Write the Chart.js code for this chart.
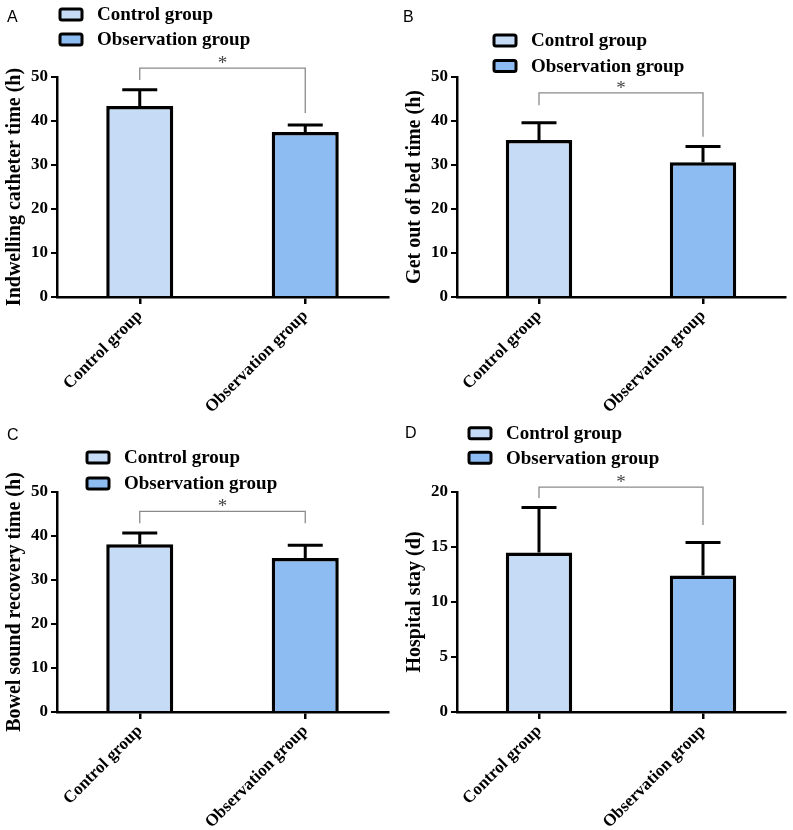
<!DOCTYPE html>
<html>
<head>
<meta charset="utf-8">
<script src="https://cdn.jsdelivr.net/npm/chart.js@4.4.1/dist/chart.umd.min.js"></script>
<style>
  body { margin: 0; background: #fff; width: 793px; height: 830px; position: relative; overflow: hidden; }
  .panel { position: absolute; }
</style>
</head>
<body>
<div class="panel" style="left:0;top:0"><canvas id="cA" width="396" height="415"></canvas></div>
<div class="panel" style="left:400px;top:0"><canvas id="cB" width="393" height="415"></canvas></div>
<div class="panel" style="left:0;top:415px"><canvas id="cC" width="396" height="415"></canvas></div>
<div class="panel" style="left:400px;top:415px"><canvas id="cD" width="393" height="415"></canvas></div>
<script>
const groups = ['Control group', 'Observation group'];
const groupColors = ['#c6dcf6', '#8dbcf3'];

// means and SD (upper error bar only)
const catheterMean = [43.4, 37.5];
const catheterSD = [3.7, 1.6];
const bedMean = [35.7, 30.6];
const bedSD = [3.9, 3.6];
const bowelMean = [38.1, 35.0];
const bowelSD = [2.6, 2.9];
const stayMean = [14.5, 12.4];
const staySD = [4.1, 3.0];

const serif = "'Liberation Serif', 'Times New Roman', serif";
const sans = "'Liberation Sans', Arial, sans-serif";

// error bars, significance bracket, legend and panel letter
const extras = {
  id: 'extras',
  afterDraw(chart) {
    const o = chart.options.plugins.extras;
    const ctx = chart.ctx;
    const meta = chart.getDatasetMeta(0);
    const y = chart.scales.y;
    const ds = chart.data.datasets[0];
    ctx.save();
    // error bars
    ctx.strokeStyle = '#000';
    ctx.lineWidth = 3;
    meta.data.forEach((bar, i) => {
      const top = y.getPixelForValue(ds.data[i]);
      const cap = y.getPixelForValue(ds.data[i] + o.sd[i]);
      ctx.beginPath();
      ctx.moveTo(bar.x, top);
      ctx.lineTo(bar.x, cap);
      ctx.moveTo(bar.x - 17.5, cap);
      ctx.lineTo(bar.x + 17.5, cap);
      ctx.stroke();
    });
    // bracket
    const x0 = meta.data[0].x, x1 = meta.data[1].x;
    const by = y.getPixelForValue(o.bracket[0]);
    ctx.strokeStyle = '#8a8a8a';
    ctx.lineWidth = 1.3;
    ctx.beginPath();
    ctx.moveTo(x0, y.getPixelForValue(o.bracket[1]));
    ctx.lineTo(x0, by);
    ctx.lineTo(x1, by);
    ctx.lineTo(x1, y.getPixelForValue(o.bracket[2]));
    ctx.stroke();
    ctx.fillStyle = '#444';
    ctx.font = '19px ' + serif;
    ctx.textAlign = 'center';
    ctx.textBaseline = 'alphabetic';
    ctx.fillText('*', (x0 + x1) / 2, by + 1);
    // legend
    ctx.textAlign = 'left';
    ctx.textBaseline = 'middle';
    ctx.font = 'bold 19px ' + serif;
    groups.forEach((g, i) => {
      const cy = o.legend.y + i * o.legend.gap;
      ctx.fillStyle = groupColors[i];
      ctx.strokeStyle = '#000';
      ctx.lineWidth = 3;
      ctx.beginPath();
      ctx.roundRect(o.legend.x, cy - 5.5, 22, 11, 2);
      ctx.fill();
      ctx.stroke();
      ctx.fillStyle = '#000';
      ctx.fillText(g, o.legend.x + 37, cy + 1);
    });
    // panel letter
    ctx.font = '16px ' + sans;
    ctx.textBaseline = 'alphabetic';
    ctx.fillStyle = '#000';
    ctx.fillText(o.letter.t, o.letter.x, o.letter.y);
    ctx.restore();
  }
};

function makePanel(id, mean, sd, yMax, yStep, yTitle, bracket, legend, letter) {
  return new Chart(document.getElementById(id), {
    type: 'bar',
    data: {
      labels: groups,
      datasets: [{
        data: mean,
        backgroundColor: groupColors,
        borderColor: '#000',
        borderWidth: 3.5,
        barPercentage: 0.405,
        categoryPercentage: 1
      }]
    },
    options: {
      responsive: false,
      animation: false,
      layout: { padding: { top: 77, right: 8, left: 0, bottom: 0 } },
      plugins: {
        legend: { display: false },
        tooltip: { enabled: false },
        extras: { sd: sd, bracket: bracket, legend: legend, letter: letter }
      },
      scales: {
        x: {
          afterFit(s) { s.height = 118; },
          border: { display: true, color: '#000', width: 2.5 },
          grid: { offset: false, drawOnChartArea: false, drawTicks: true, tickLength: 7, color: '#000', lineWidth: 2.5 },
          ticks: { color: '#000', maxRotation: 45, minRotation: 45, padding: 2, font: { family: serif, size: 17, weight: 'bold' } }
        },
        y: {
          min: 0,
          max: yMax,
          afterFit(s) { s.width = 57; },
          border: { display: true, color: '#000', width: 2.5 },
          grid: { drawOnChartArea: false, drawTicks: true, tickLength: 6, color: '#000', lineWidth: 2 },
          ticks: { stepSize: yStep, color: '#000', padding: 3, font: { family: serif, size: 17, weight: 'bold' } },
          title: { display: true, text: yTitle, color: '#000', padding: { top: 3, bottom: 0 }, font: { family: serif, size: 20, weight: 'bold' } }
        }
      }
    },
    plugins: [extras]
  });
}

makePanel('cA', catheterMean, catheterSD, 50, 10, 'Indwelling catheter time (h)',
  [52.0, 49.3, 41.8], { x: 60, y: 14.5, gap: 25 }, { t: 'A', x: 7, y: 22 });
makePanel('cB', bedMean, bedSD, 50, 10, 'Get out of bed time (h)',
  [46.4, 43.6, 36.4], { x: 94, y: 40.5, gap: 25.5 }, { t: 'B', x: 3, y: 22 });
makePanel('cC', bowelMean, bowelSD, 50, 10, 'Bowel sound recovery time (h)',
  [45.6, 42.9, 42.9], { x: 87, y: 42.5, gap: 26 }, { t: 'C', x: 7, y: 25 });
makePanel('cD', stayMean, staySD, 20, 5, 'Hospital stay (d)',
  [20.45, 19.45, 17.0], { x: 69, y: 18.3, gap: 24.5 }, { t: 'D', x: 5, y: 23 });
</script>
</body>
</html>
